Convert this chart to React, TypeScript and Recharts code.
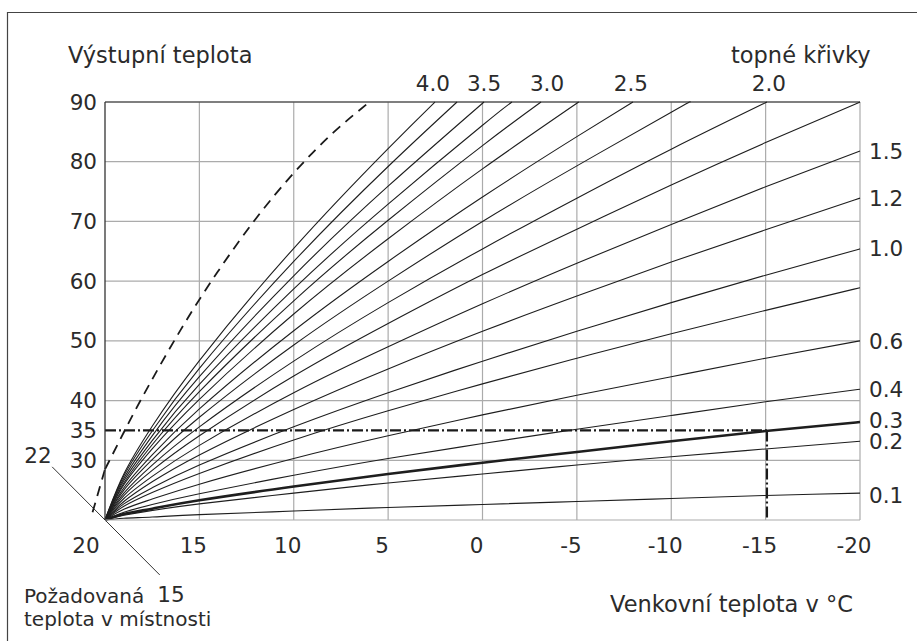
import React from 'react';
import { LineChart, Line, XAxis, YAxis, CartesianGrid, ReferenceLine } from 'recharts';

const FONT = '"DejaVu Sans", "Noto Sans", sans-serif';
const TEXT = '#2b2b2b';
const CURVE = '#1e1e1e';
const GRID = '#ababab';
const NUM_SIZE = 21.5;

// outdoor temperatures (°C) at which the heating curves were read
const outdoorTemps = [20, 19, 17.5, 15, 10, 5, 0, -5, -10, -15, -20];

// heating curve names (empty = unlabelled intermediate curve)
const curveLabels = ['4.0', '', '3.5', '', '3.0', '', '2.5', '', '2.0', '', '1.5', '1.2', '1.0', '', '0.6', '0.4', '0.3', '0.2', '0.1'];

// outdoor temperature where a curve reaches 90 °C (null = runs to -20 °C)
const topCrossings: (number | null)[] = [2.52, 1.35, -0.08, -1.56, -3.1, -5.1, -7.97, -10.99, -15.07, null, null, null, null, null, null, null, null, null, null];

// flow temperature of each curve at outdoorTemps
const flowTemps: (number | null)[][] = [
  [20, 27.7, 35.7, 46.7, 65.5, 82.2, null, null, null, null, null],
  [20, 27.4, 34.9, 45.4, 63.3, 79.2, null, null, null, null, null],
  [20, 27.0, 34.1, 44.0, 60.9, 75.9, null, null, null, null, null],
  [20, 26.6, 33.3, 42.7, 58.7, 72.9, 86.1, null, null, null, null],
  [20, 26.2, 32.6, 41.5, 56.7, 70.2, 82.7, null, null, null, null],
  [20, 25.9, 31.9, 40.2, 54.5, 67.1, 78.8, null, null, null, null],
  [20, 25.4, 30.9, 38.6, 51.7, 63.3, 74.1, 84.2, null, null, null],
  [20, 25.0, 30.1, 37.2, 49.3, 60.0, 70.0, 79.3, 88.3, null, null],
  [20, 24.5, 29.2, 35.6, 46.6, 56.4, 65.4, 73.9, 82.1, null, null],
  [20, 24.1, 28.3, 34.1, 44.1, 52.9, 61.1, 68.7, 76.1, 83.2, 90.0],
  [20, 23.6, 27.3, 32.5, 41.3, 49.0, 56.2, 63.0, 69.5, 75.8, 81.8],
  [20, 23.1, 26.4, 30.9, 38.5, 45.3, 51.6, 57.5, 63.2, 68.6, 73.9],
  [20, 22.7, 25.4, 29.2, 35.6, 41.3, 46.6, 51.6, 56.4, 61.0, 65.4],
  [20, 22.3, 24.6, 27.8, 33.4, 38.3, 42.8, 47.1, 51.2, 55.1, 58.9],
  [20, 21.8, 23.5, 26.0, 30.3, 34.1, 37.6, 40.9, 44.0, 47.1, 50.0],
  [20, 21.3, 22.6, 24.4, 27.5, 30.3, 32.8, 35.2, 37.5, 39.8, 41.9],
  [20, 21.0, 21.9, 23.3, 25.6, 27.7, 29.6, 31.4, 33.2, 34.9, 36.4],
  [20, 20.8, 21.6, 22.7, 24.5, 26.2, 27.7, 29.2, 30.6, 31.9, 33.2],
  [20, 20.3, 20.5, 20.9, 21.5, 22.1, 22.6, 23.1, 23.6, 24.1, 24.5],
];
const boldCurve = '0.3';
// small nudges of the curve names (px)
const labelNudge: Record<string, number> = { '1.0': -1, '0.3': -2, '0.1': 2, '4.0': -2, '3.0': 6, '2.5': -2, '2.0': 2 };

// dashed limit curve
const dashedTemps = [20, 19, 18, 16, 14, 12, 10, 8, 5.99];
const dashedFlows = [28.5, 34.7, 40.7, 51.8, 61.7, 70.5, 78.1, 84.6, 90];
const dashedStart = { t: 20.66, v: 21.3 };

// example design point (dash-dot)
const designOutdoor = -15.07;
const designFlow = 35;

// room temperature scale (22 ... 15) drawn as a diagonal through the origin
const roomScaleEnds = [
  { t: 22.8, v: 28.9 },
  { t: 17.1, v: 10.8 },
];

const xTicks = [20, 15, 10, 5, 0, -5, -10, -15, -20];
const yTicks = [30, 35, 40, 50, 60, 70, 80, 90];
const gridX = [15, 10, 5, 0, -5, -10, -15, -20];
const gridY = [30, 40, 50, 60, 70, 80];
const FLOW_MAX = 90;

const curves = flowTemps.map((row, i) => {
  const pts = outdoorTemps
    .map((t, j) => ({ t, v: row[j] }))
    .filter((p) => p.v !== null) as { t: number; v: number }[];
  const top = topCrossings[i];
  if (top !== null) pts.push({ t: top, v: FLOW_MAX });
  return { label: curveLabels[i], data: pts, atTop: top !== null };
});

const dashedData = dashedTemps.map((t, i) => ({ t, v: dashedFlows[i] }));

const XTick = (props: any) => {
  const { x, y, payload } = props;
  const v = payload.value;
  const dx = v === 20 ? -19 : -6;
  return (
    <text x={x + dx} y={y + 33} textAnchor="middle" fontSize={NUM_SIZE} fontFamily={FONT} fill={TEXT}>
      {String(v)}
    </text>
  );
};

const makeLabel = (text: string, lastIndex: number, atTop: boolean) => (props: any) => {
  const { x, y, index } = props;
  if (!text || index !== lastIndex) return null;
  const nudge = labelNudge[text] || 0;
  if (atTop) {
    return (
      <text key={`l${text}`} x={x + nudge} y={y - 11} textAnchor="middle" fontSize={NUM_SIZE} fontFamily={FONT} fill={TEXT}>
        {text}
      </text>
    );
  }
  return (
    <text key={`l${text}`} x={x + 9} y={y + 8 + nudge} textAnchor="start" fontSize={NUM_SIZE} fontFamily={FONT} fill={TEXT}>
      {text}
    </text>
  );
};

export default function App() {
  return (
    <div style={{ position: 'absolute', left: 0, top: 0, width: 917, height: 641, overflow: 'hidden', background: '#fff' }}>
      <div style={{ position: 'absolute', left: 0, top: 0 }}>
        <LineChart width={917} height={641} margin={{ top: 102, right: 57, left: 45, bottom: 71 }}>
          <CartesianGrid stroke={GRID} strokeWidth={1.2} horizontalValues={gridY} verticalValues={gridX} />
          <XAxis
            type="number"
            dataKey="t"
            domain={[-20, 20]}
            reversed
            ticks={xTicks}
            interval={0}
            tickLine={false}
            tickSize={0}
            tickMargin={0}
            height={50}
            axisLine={{ stroke: GRID, strokeWidth: 1.2 }}
            tick={<XTick />}
          />
          <YAxis
            type="number"
            dataKey="v"
            domain={[20, 90]}
            ticks={yTicks}
            interval={0}
            tickLine={false}
            tickSize={0}
            tickMargin={8}
            width={60}
            axisLine={{ stroke: '#333', strokeWidth: 1.3 }}
            tick={{ fontSize: NUM_SIZE, fontFamily: FONT, fill: TEXT }}
          />
          <ReferenceLine y={FLOW_MAX} stroke="#555" strokeWidth={1.5} />
          <ReferenceLine
            segment={[{ x: 20, y: designFlow }, { x: designOutdoor, y: designFlow }]}
            stroke="#1a1a1a"
            strokeWidth={2.2}
            strokeDasharray="11 3 2 3"
          />
          <ReferenceLine
            segment={[{ x: designOutdoor, y: designFlow }, { x: designOutdoor, y: 20 }]}
            stroke="#1a1a1a"
            strokeWidth={2.2}
            strokeDasharray="11 3 2 3"
          />
          <ReferenceLine
            segment={[{ x: roomScaleEnds[0].t, y: roomScaleEnds[0].v }, { x: roomScaleEnds[1].t, y: roomScaleEnds[1].v }]}
            ifOverflow="visible"
            stroke="#333"
            strokeWidth={1}
          />
          <ReferenceLine
            segment={[{ x: dashedStart.t, y: dashedStart.v }, { x: dashedTemps[0], y: dashedFlows[0] }]}
            ifOverflow="visible"
            stroke="#1a1a1a"
            strokeWidth={1.8}
            strokeDasharray="10 7"
          />
          <Line
            data={dashedData}
            dataKey="v"
            type="natural"
            stroke="#1a1a1a"
            strokeWidth={1.8}
            strokeDasharray="10 7"
            dot={false}
            isAnimationActive={false}
          />
          {curves.map((c, i) => (
            <Line
              key={i}
              data={c.data}
              dataKey="v"
              type="natural"
              stroke={CURVE}
              strokeWidth={c.label === boldCurve ? 2.6 : 1.1}
              dot={false}
              isAnimationActive={false}
              label={makeLabel(c.label, c.data.length - 1, c.atTop)}
            />
          ))}
        </LineChart>
      </div>
      <svg width={917} height={641} style={{ position: 'absolute', left: 0, top: 0, pointerEvents: 'none' }}>
        <path d="M7.5 641 V12.5 H917" fill="none" stroke="#444" strokeWidth={1.2} />
        <g fontFamily={FONT} fill={TEXT}>
          <text x={68} y={63} fontSize={22.5}>Výstupní teplota</text>
          <text x={731} y={63} fontSize={22.5}>topné křivky</text>
          <text x={610} y={612} fontSize={22.5}>Venkovní teplota v °C</text>
          <text x={38} y={463} fontSize={NUM_SIZE} textAnchor="middle">22</text>
          <text x={171} y={602} fontSize={NUM_SIZE} textAnchor="middle">15</text>
          <text x={24} y={603} fontSize={20}>Požadovaná</text>
          <text x={24} y={626} fontSize={20}>teplota v místnosti</text>
        </g>
      </svg>
    </div>
  );
}
